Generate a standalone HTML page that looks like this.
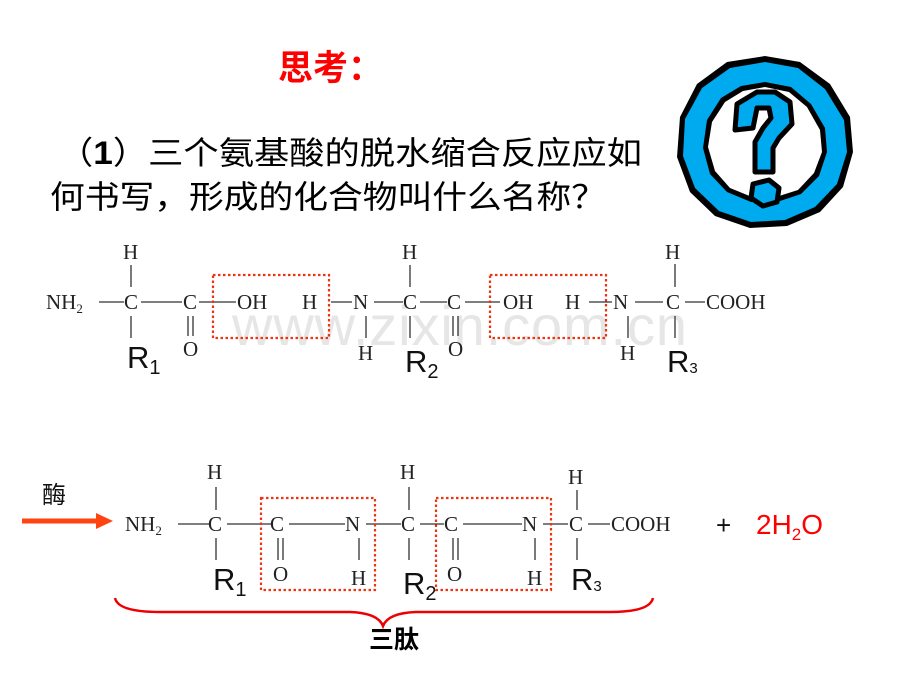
<!DOCTYPE html>
<html><head><meta charset="utf-8"><style>
html,body{margin:0;padding:0;background:#fff;}
svg{display:block;}
.c{font-family:"Liberation Serif","DejaVu Serif",serif;font-size:21px;fill:#222;}
.r{font-family:"Liberation Sans",sans-serif;font-size:31px;fill:#111;}
.cj{font-family:"Liberation Sans","Noto Sans CJK SC",sans-serif;}
</style></head><body>
<svg width="920" height="690" viewBox="0 0 920 690" xmlns="http://www.w3.org/2000/svg">
<rect width="920" height="690" fill="#fff"/>
<text x="278" y="80" class="cj" font-size="35" font-weight="bold" fill="#ff0000">思考：</text>
<text x="58" y="164" class="cj" font-size="32" fill="#000" textLength="584" lengthAdjust="spacingAndGlyphs">（<tspan font-weight="bold">1</tspan>）三个氨基酸的脱水缩合反应应如</text>
<text x="50" y="208" class="cj" font-size="32" fill="#000" textLength="556" lengthAdjust="spacingAndGlyphs">何书写，形成的化合物叫什么名称？</text>

<g transform="translate(765,142)">
<polygon points="0,-86 35,-80 65,-58 85,-25 88,10 78,45 55,70 22,84 -15,86 -50,74 -75,50 -88,15 -85,-25 -68,-58 -38,-80" fill="#000"/>
<polygon points="0,-80 33,-74 60,-53 79,-22 82,10 72,42 50,65 20,78 -14,80 -46,69 -70,46 -82,14 -80,-23 -63,-54 -35,-74" fill="#00aaee"/>
<polygon points="0,-60 26,-55 46,-38 60,-14 62,10 54,34 36,52 12,60 -14,60 -38,50 -55,32 -62,6 -58,-22 -44,-44 -24,-56" fill="#000"/>
<polygon points="0,-55 24,-50 42,-35 55,-12 57,10 49,31 33,48 11,55 -13,55 -35,46 -50,29 -57,5 -53,-20 -40,-40 -22,-51" fill="#fff"/>
<path d="M-30,-12 L-28,-38 L-8,-50 L10,-50 L25,-40 L27,-18 L14,-4 L8,6 L8,30 L-10,30 L-10,0 L-2,-14 L6,-24 L4,-34 L-8,-34 L-12,-14 Z" fill="#00aaee" stroke="#000" stroke-width="5" stroke-linejoin="round"/>
<polygon points="-12,42 4,38 14,46 12,60 -2,64 -14,56" fill="#00aaee" stroke="#000" stroke-width="5" stroke-linejoin="round"/>
</g>

<text x="232" y="345" font-family="Liberation Sans,sans-serif" font-size="56" fill="#e6e6e6" textLength="455">www.zixin.com.cn</text>

<g stroke="#333" stroke-width="1.3">
<line x1="131" y1="265" x2="131" y2="287"/><line x1="131" y1="316" x2="131" y2="338"/>
<line x1="99" y1="302" x2="124" y2="302"/><line x1="141" y1="302" x2="182" y2="302"/>
<line x1="199" y1="302" x2="236" y2="302"/>
<line x1="188" y1="316" x2="188" y2="336"/><line x1="193" y1="316" x2="193" y2="336"/>
<line x1="331" y1="302" x2="352" y2="302"/><line x1="374" y1="302" x2="403" y2="302"/>
<line x1="366" y1="316" x2="366" y2="338"/>
<line x1="410" y1="265" x2="410" y2="287"/><line x1="410" y1="316" x2="410" y2="338"/>
<line x1="420" y1="302" x2="447" y2="302"/><line x1="465" y1="302" x2="500" y2="302"/>
<line x1="453" y1="316" x2="453" y2="336"/><line x1="458" y1="316" x2="458" y2="336"/>
<line x1="589" y1="302" x2="612" y2="302"/><line x1="635" y1="302" x2="663" y2="302"/>
<line x1="628" y1="316" x2="628" y2="338"/>
<line x1="675" y1="264" x2="675" y2="287"/><line x1="675" y1="316" x2="675" y2="338"/>
<line x1="685" y1="302" x2="705" y2="302"/>
</g>
<g class="c">
<text x="46" y="309">NH<tspan font-size="13" dy="4">2</tspan></text>
<text x="123" y="259">H</text><text x="124" y="309">C</text><text x="183" y="309">C</text><text x="183" y="356">O</text>
<text x="237" y="309">OH</text><text x="302" y="309">H</text><text x="353" y="309">N</text><text x="358" y="360">H</text>
<text x="402" y="259">H</text><text x="403" y="309">C</text><text x="447" y="309">C</text><text x="448" y="356">O</text>
<text x="503" y="309">OH</text><text x="565" y="309">H</text><text x="613" y="309">N</text><text x="620" y="360">H</text>
<text x="665" y="259">H</text><text x="666" y="309">C</text><text x="706" y="309">COOH</text>
</g>
<g class="r">
<text x="127" y="368">R<tspan font-size="20" dy="6">1</tspan></text>
<text x="405" y="372">R<tspan font-size="20" dy="6">2</tspan></text>
<text x="667" y="372">R<tspan font-size="15" dy="1">3</tspan></text>
</g>
<g fill="none" stroke="#ee3311" stroke-width="2.2" stroke-dasharray="2.5,2.5">
<rect x="213" y="275" width="116" height="63"/>
<rect x="490" y="275" width="116" height="63"/>
</g>

<text x="42" y="503" class="cj" font-size="24" fill="#111">酶</text>
<line x1="22" y1="521" x2="98" y2="521" stroke="#ff4411" stroke-width="5"/>
<polygon points="96,513 113,521 96,529" fill="#ff4411"/>
<g stroke="#333" stroke-width="1.3">
<line x1="216" y1="487" x2="216" y2="510"/><line x1="216" y1="538" x2="216" y2="560"/>
<line x1="178" y1="524" x2="209" y2="524"/><line x1="227" y1="524" x2="271" y2="524"/>
<line x1="289" y1="524" x2="345" y2="524"/>
<line x1="278" y1="538" x2="278" y2="560"/><line x1="283" y1="538" x2="283" y2="560"/>
<line x1="359" y1="538" x2="359" y2="560"/>
<line x1="366" y1="524" x2="401" y2="524"/>
<line x1="409" y1="487" x2="409" y2="510"/><line x1="409" y1="538" x2="409" y2="560"/>
<line x1="420" y1="524" x2="444" y2="524"/><line x1="463" y1="524" x2="522" y2="524"/>
<line x1="453" y1="538" x2="453" y2="560"/><line x1="458" y1="538" x2="458" y2="560"/>
<line x1="535" y1="538" x2="535" y2="560"/>
<line x1="543" y1="524" x2="568" y2="524"/>
<line x1="577" y1="490" x2="577" y2="510"/><line x1="577" y1="538" x2="577" y2="560"/>
<line x1="588" y1="524" x2="610" y2="524"/>
</g>
<g class="c">
<text x="125" y="531">NH<tspan font-size="13" dy="4">2</tspan></text>
<text x="207" y="479">H</text><text x="208" y="531">C</text><text x="270" y="531">C</text><text x="273" y="581">O</text>
<text x="345" y="531">N</text><text x="351" y="585">H</text>
<text x="400" y="479">H</text><text x="401" y="531">C</text><text x="444" y="531">C</text><text x="447" y="581">O</text>
<text x="522" y="531">N</text><text x="527" y="585">H</text>
<text x="568" y="484">H</text><text x="569" y="531">C</text><text x="611" y="531">COOH</text>
</g>
<g class="r">
<text x="213" y="590">R<tspan font-size="20" dy="6">1</tspan></text>
<text x="403" y="594">R<tspan font-size="20" dy="6">2</tspan></text>
<text x="571" y="590">R<tspan font-size="15" dy="1">3</tspan></text>
</g>
<g fill="none" stroke="#ee3311" stroke-width="2.2" stroke-dasharray="2.5,2.5">
<rect x="261" y="498" width="114" height="92"/>
<rect x="436" y="498" width="115" height="92"/>
</g>
<text x="716" y="534" font-family="Liberation Sans,sans-serif" font-size="26" fill="#111">+</text>
<text x="756" y="534" font-family="Liberation Sans,sans-serif" font-size="28" fill="#ff0000">2H<tspan font-size="17" dy="6">2</tspan><tspan dy="-6">O</tspan></text>
<path d="M115,598 Q118,612 160,612 L350,612 Q378,613 383,626 Q388,613 416,612 L610,612 Q650,612 653,598" fill="none" stroke="#ee0000" stroke-width="2.5"/>
<text x="369" y="648" class="cj" font-size="25" font-weight="bold" fill="#000">三肽</text>
</svg>
</body></html>
